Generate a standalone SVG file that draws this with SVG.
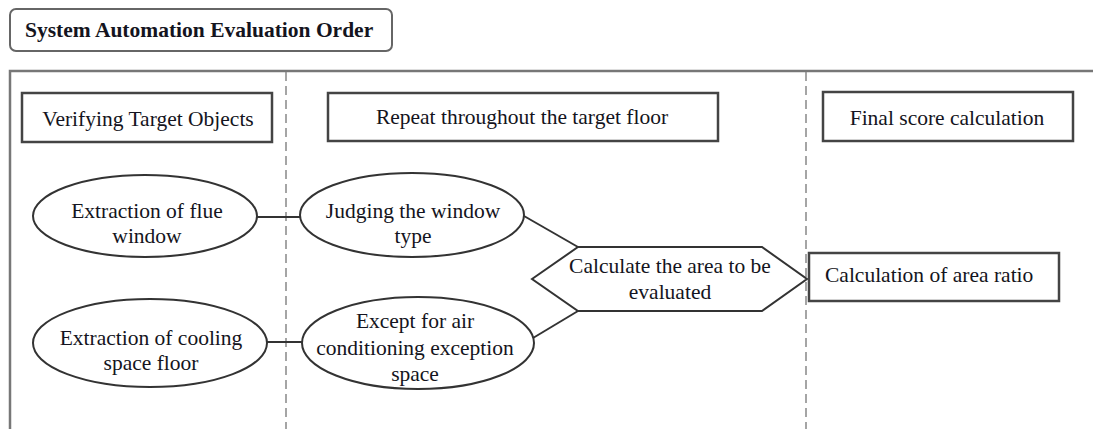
<svg xmlns="http://www.w3.org/2000/svg" width="1093" height="429" viewBox="0 0 1093 429">
<style>
text{font-family:"Liberation Serif","Times New Roman",serif;font-size:21.5px;fill:#141420}
.c{text-anchor:middle}
.hdr{fill:#fff;stroke:#444;stroke-width:2.5}
.node{fill:#fff;stroke:#333;stroke-width:2}
.frame{fill:none;stroke:#777;stroke-width:2.5}
.dash{fill:none;stroke:#888;stroke-width:1.5;stroke-dasharray:9 5}
.conn{fill:none;stroke:#333;stroke-width:2}
</style>
<rect width="1093" height="429" fill="#fff"/>
<g id="title">
<rect x="10" y="9" width="382" height="42" rx="6" fill="#fff" stroke="#666" stroke-width="2"/>
<text x="25" y="37" style="font-weight:bold">System Automation Evaluation Order</text>
</g>
<g id="frame">
<path class="frame" d="M10,429 V71 H1093"/>
<path class="dash" d="M286,72 V429"/>
<path class="dash" d="M806,72 V429"/>
</g>
<g id="connectors">
<path class="conn" d="M257,217 H300"/>
<path class="conn" d="M267,342 H302"/>
<path class="conn" d="M524,216 L578,247"/>
<path class="conn" d="M533,338 L578,311"/>
</g>
<g id="h1">
<rect class="hdr" x="22" y="93" width="250" height="49"/>
<text class="c" x="148" y="126">Verifying Target Objects</text>
</g>
<g id="h2">
<rect class="hdr" x="328" y="93" width="390" height="48"/>
<text class="c" x="522" y="124">Repeat throughout the target floor</text>
</g>
<g id="h3">
<rect class="hdr" x="823" y="92" width="250" height="49"/>
<text class="c" x="947" y="125">Final score calculation</text>
</g>
<g id="n1">
<ellipse class="node" cx="145" cy="216" rx="112" ry="41"/>
<text class="c" x="147" y="218">Extraction of flue</text>
<text class="c" x="147" y="243">window</text>
</g>
<g id="n2">
<ellipse class="node" cx="412" cy="215" rx="112" ry="42"/>
<text class="c" x="413" y="218">Judging the window</text>
<text class="c" x="413" y="243">type</text>
</g>
<g id="n3">
<ellipse class="node" cx="150" cy="343" rx="117" ry="44"/>
<text class="c" x="151" y="345">Extraction of cooling</text>
<text class="c" x="151" y="370">space floor</text>
</g>
<g id="n4">
<ellipse class="node" cx="418" cy="343" rx="116" ry="46"/>
<text class="c" x="415" y="328">Except for air</text>
<text class="c" x="415" y="355">conditioning exception</text>
<text class="c" x="415" y="381">space</text>
</g>
<g id="n5">
<polygon class="node" points="532,279 578,247 762,247 807,279 762,311 578,311"/>
<text class="c" x="670" y="273">Calculate the area to be</text>
<text class="c" x="670" y="299">evaluated</text>
</g>
<g id="n6">
<rect class="hdr" x="809" y="253" width="250" height="48"/>
<text x="825" y="282">Calculation of area ratio</text>
</g>
</svg>
